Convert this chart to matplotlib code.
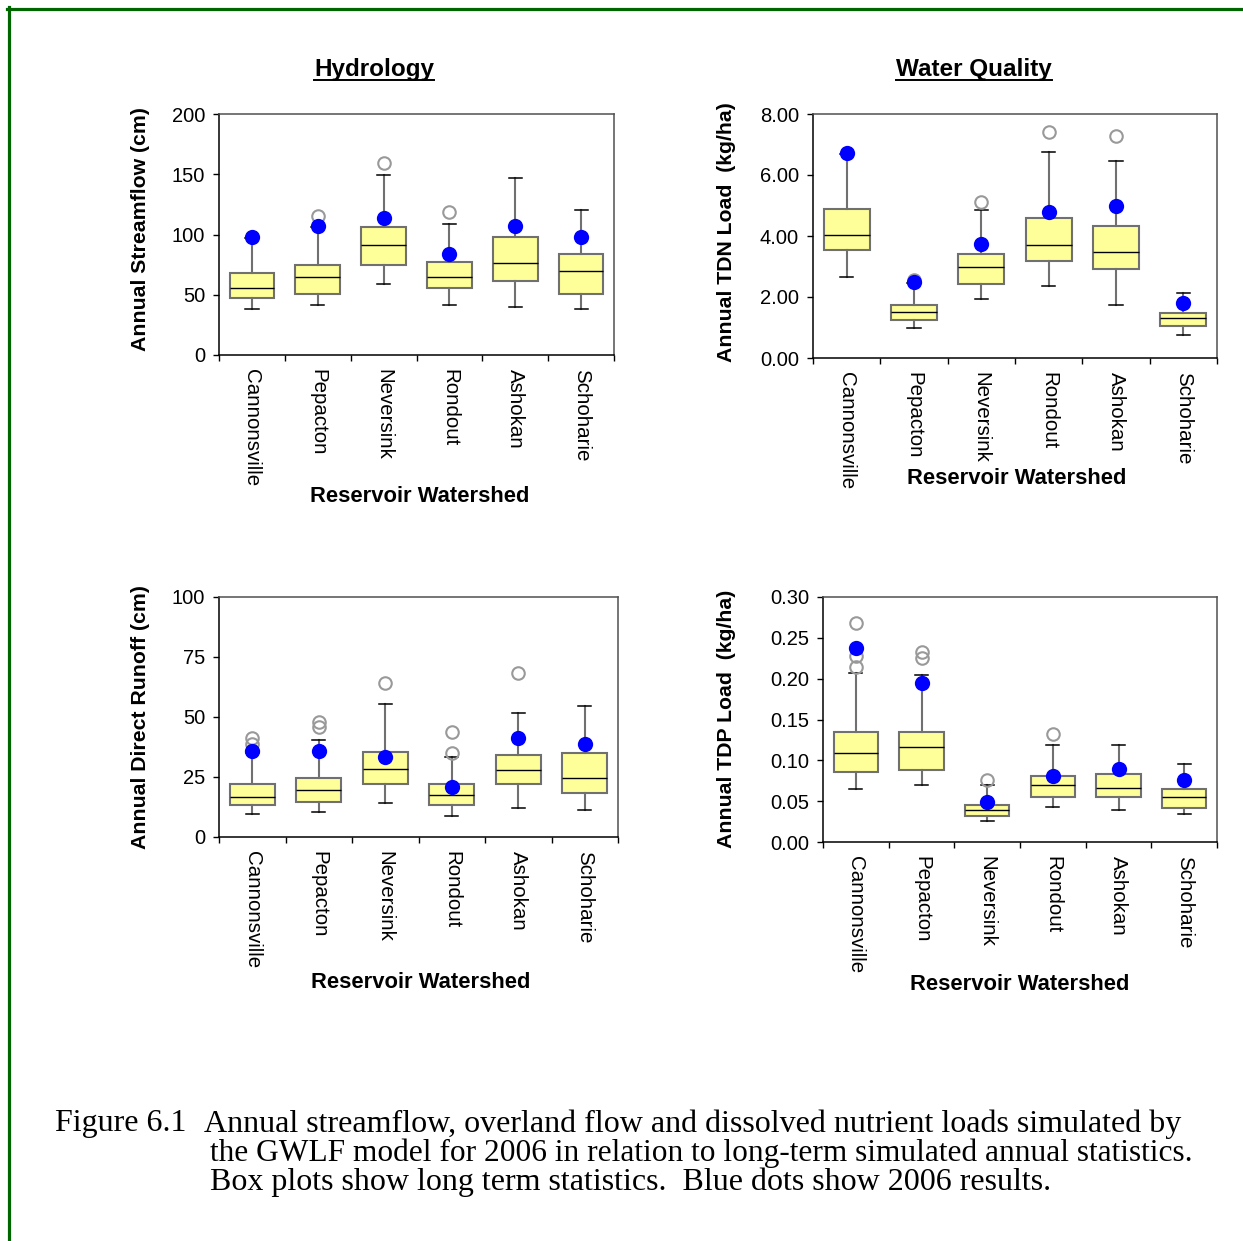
import matplotlib
matplotlib.use("Agg")
import matplotlib.pyplot as plt
from matplotlib.lines import Line2D
from matplotlib.ticker import FormatStrFormatter, MultipleLocator

# ---------------------------------------------------------------- data
sites = ["Cannonsville", "Pepacton", "Neversink", "Rondout", "Ashokan", "Schoharie"]

# Annual streamflow (cm)
streamflow_q1 = [47.6, 50.9, 74.4, 55.3, 61.7, 50.9]
streamflow_med = [55.3, 65.0, 91.6, 65.0, 76.0, 69.4]
streamflow_q3 = [67.8, 74.4, 106.0, 77.5, 98.2, 83.5]
streamflow_lo = [37.9, 41.2, 58.6, 41.2, 39.6, 37.9]
streamflow_hi = [97.0, 106.0, 149.7, 109.0, 146.6, 120.0]
streamflow_out = [[], [115.4], [159.6], [118.4], [], []]
streamflow_2006 = [98.2, 107.3, 114.0, 83.8, 107.3, 98.2]

# Annual TDN load (kg/ha)
tdn_q1 = [3.54, 1.24, 2.42, 3.17, 2.91, 1.05]
tdn_med = [4.03, 1.50, 2.98, 3.72, 3.47, 1.31]
tdn_q3 = [4.90, 1.74, 3.42, 4.60, 4.34, 1.48]
tdn_lo = [2.67, 0.98, 1.92, 2.36, 1.74, 0.74]
tdn_hi = [6.70, 2.45, 4.85, 6.77, 6.46, 2.12]
tdn_out = [[], [2.57], [5.11], [7.40], [7.28], []]
tdn_2006 = [6.71, 2.48, 3.74, 4.78, 4.98, 1.81]

# Annual direct runoff (cm)
runoff_q1 = [13.5, 14.4, 22.2, 13.5, 22.2, 18.3]
runoff_med = [16.7, 19.7, 28.5, 17.6, 27.8, 24.6]
runoff_q3 = [22.2, 24.6, 35.6, 22.2, 34.2, 34.9]
runoff_lo = [9.4, 10.4, 14.3, 8.75, 11.9, 11.25]
runoff_hi = [35.0, 40.4, 55.6, 33.5, 51.5, 54.6]
runoff_out = [[38.6, 41.4], [45.8, 47.8], [64.3], [35.0, 43.75], [68.2], []]
runoff_2006 = [35.8, 35.8, 33.3, 20.7, 41.25, 38.9]

# Annual TDP load (kg/ha)
tdp_q1 = [0.0855, 0.0876, 0.0323, 0.0553, 0.0553, 0.0413]
tdp_med = [0.1089, 0.1158, 0.0393, 0.0692, 0.0667, 0.0553]
tdp_q3 = [0.1343, 0.1343, 0.0458, 0.0810, 0.0835, 0.0647]
tdp_lo = [0.0643, 0.0692, 0.0254, 0.0434, 0.0389, 0.0344]
tdp_hi = [0.2070, 0.2043, 0.0692, 0.1183, 0.1183, 0.0950]
tdp_out = [[0.2137, 0.2272, 0.2677], [0.2251, 0.2329], [0.0765], [0.1326], [], []]
tdp_2006 = [0.2370, 0.1944, 0.0491, 0.0810, 0.0900, 0.0765]

# ---------------------------------------------------------------- style
W, H = 1243, 1241
SANS = "Liberation Sans"
SERIF = "Liberation Serif"
BOX_FACE = "#ffff99"
BOX_EDGE = "#707070"
FRAME = "#505050"

fig = plt.figure(figsize=(W / 100, H / 100), dpi=100)


def fx(px):
    return px / W


def fy(py):
    return 1 - py / H


def make_axes(left, top, right, bottom):
    return fig.add_axes([fx(left), fy(bottom), (right - left) / W, (bottom - top) / H])


def draw_panel(ax, q1, med, q3, lo, hi, out, obs, ymax, ystep, fmt):
    stats = []
    for i in range(len(sites)):
        stats.append(dict(med=med[i], q1=q1[i], q3=q3[i], whislo=lo[i],
                          whishi=hi[i], fliers=out[i], label=sites[i]))
    pos = list(range(1, len(sites) + 1))
    ax.bxp(stats, positions=pos, widths=0.68, capwidths=0.2, patch_artist=True,
           boxprops=dict(facecolor=BOX_FACE, edgecolor=BOX_EDGE, linewidth=1.5),
           medianprops=dict(color="black", linewidth=1.0),
           whiskerprops=dict(color=BOX_EDGE, linewidth=1.5),
           capprops=dict(color="black", linewidth=1.1),
           flierprops=dict(marker="o", markerfacecolor="none",
                           markeredgecolor="#999999", markersize=9,
                           markeredgewidth=1.5))
    ax.plot(pos, obs, "o", color="#0000ff", markersize=11, zorder=5,
            markeredgewidth=0)

    ax.set_xlim(0.5, len(sites) + 0.5)
    ax.set_ylim(0, ymax)
    ax.yaxis.set_major_locator(MultipleLocator(ystep))
    ax.yaxis.set_major_formatter(FormatStrFormatter(fmt))
    ax.set_xticks(pos)
    ax.set_xticklabels(sites, rotation=270, fontsize=14.8, family=SANS)
    ax.set_xticks([p + 0.5 for p in range(0, len(sites) + 1)], minor=True)
    ax.tick_params(axis="x", which="major", length=0, pad=10)
    ax.tick_params(axis="x", which="minor", length=4, width=1, direction="out")
    ax.tick_params(axis="y", length=4, width=1, direction="out", pad=6,
                   labelsize=14.5)
    for lab in ax.get_yticklabels():
        lab.set_family(SANS)
    for side in ("left", "bottom"):
        ax.spines[side].set_color("black")
        ax.spines[side].set_linewidth(1.1)
    for side in ("top", "right"):
        ax.spines[side].set_color(FRAME)
        ax.spines[side].set_linewidth(1.1)
    ax.set_facecolor("white")


ax1 = make_axes(219, 114, 614, 355)
draw_panel(ax1, streamflow_q1, streamflow_med, streamflow_q3, streamflow_lo,
           streamflow_hi, streamflow_out, streamflow_2006, 200, 50, "%d")

ax2 = make_axes(813, 114, 1217, 358)
draw_panel(ax2, tdn_q1, tdn_med, tdn_q3, tdn_lo, tdn_hi, tdn_out, tdn_2006,
           8, 2, "%.2f")

ax3 = make_axes(219, 597, 618, 837)
draw_panel(ax3, runoff_q1, runoff_med, runoff_q3, runoff_lo, runoff_hi,
           runoff_out, runoff_2006, 100, 25, "%d")

ax4 = make_axes(823, 597, 1217, 842)
draw_panel(ax4, tdp_q1, tdp_med, tdp_q3, tdp_lo, tdp_hi, tdp_out, tdp_2006,
           0.30, 0.05, "%.2f")

# axis titles
ylabels = [("Annual Streamflow (cm)", 140, 229),
           ("Annual TDN Load  (kg/ha)", 727, 232),
           ("Annual Direct Runoff (cm)", 140, 717),
           ("Annual TDP Load  (kg/ha)", 727, 719)]
for txt, x, y in ylabels:
    fig.text(fx(x), fy(y), txt, rotation=90, ha="center", va="center",
             fontsize=15.3, weight="bold", family=SANS)

xlabels = [(420, 496), (1017, 479), (421, 982), (1020, 984)]
for x, y in xlabels:
    fig.text(fx(x), fy(y), "Reservoir Watershed", ha="center", va="center",
             fontsize=15.8, weight="bold", family=SANS)

# underlined section headings
headings = [("Hydrology", 374, 76), ("Water Quality", 974, 76)]
head_texts = []
for txt, x, y in headings:
    t = fig.text(fx(x), fy(y), txt, ha="center", va="baseline", fontsize=17.5,
                 weight="bold", family=SANS)
    head_texts.append((t, y))

fig.canvas.draw()
renderer = fig.canvas.get_renderer()
for t, y in head_texts:
    bb = t.get_window_extent(renderer)
    fig.add_artist(Line2D([bb.x0 / W, bb.x1 / W], [fy(y + 4), fy(y + 4)],
                          transform=fig.transFigure, color="black",
                          linewidth=1.4))

# caption
caption = [(55, 1124, 23.0, "Figure 6.1"),
           (204, 1124, 23.0, "Annual streamflow, overland flow and dissolved nutrient loads simulated by"),
           (210, 1153, 22.6, "the GWLF model for 2006 in relation to long-term simulated annual statistics."),
           (210, 1182, 23.0, "Box plots show long term statistics.  Blue dots show 2006 results.")]
for x, y, size, txt in caption:
    fig.text(fx(x), fy(y), txt, ha="left", va="center", fontsize=size,
             family=SERIF)

# page frame
green = "#006600"
fig.add_artist(Line2D([fx(7), fx(W)], [fy(8.5), fy(8.5)],
                      transform=fig.transFigure, color=green, linewidth=2.3))
fig.add_artist(Line2D([fx(8.5), fx(8.5)], [fy(7), fy(H)],
                      transform=fig.transFigure, color=green, linewidth=2.3))

fig.savefig("out.png", dpi=100, facecolor="white")
